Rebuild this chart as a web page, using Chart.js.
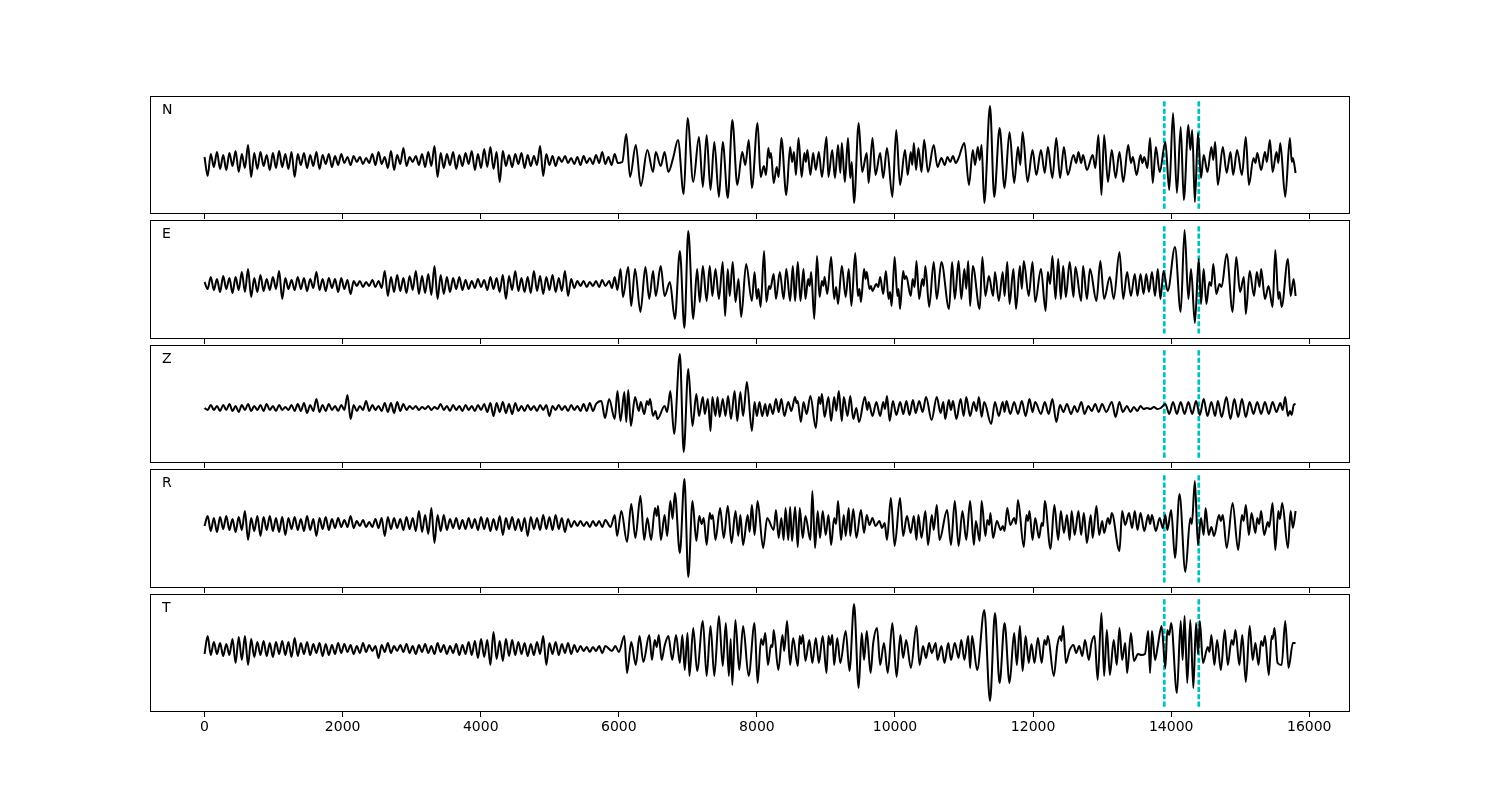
<!DOCTYPE html>
<html>
<head>
<meta charset="utf-8">
<title>N E Z R T traces</title>
<script src="https://cdn.jsdelivr.net/npm/chart.js@4.4.0/dist/chart.umd.min.js"></script>
<style>
    body { margin: 0; background: #fff; }
    #wrap { position: relative; width: 1500px; height: 800px; }
    #wrap canvas { position: absolute; left: 0; }
</style>
</head>
<body>
<div id="wrap"></div>
<script>
// --- data (amplitudes, roughly in pixel units) ---
const panelNames = ['N', 'E', 'Z', 'R', 'T'];
const xTicks = [0, 2000, 4000, 6000, 8000, 10000, 12000, 14000, 16000];
const pickTimes = [13900, 14400];
const xRange = [-790, 16590];

// first ~6000 samples: dense noise, one value every NOISE_DT
const NOISE_DT = 45;

const nNoise = [3,-16,6,-7,8,-9,5,-10,7,-6, 9,-12,6,-8,15,-17,7,-9,8,-6, 5,-10,7,-8,9,-7,6,-9,8,-17,
    6,-5,7,-8,5,-6,8,-9,5,-4, 6,-7,4,-5,6,-3,3,-5,4,-2, 3,-4,2,-3,6,-5,8,-4,3,-8,
    9,-10,5,-4,12,-6,3,-2,4,-5, 6,-7,8,-6,14,-17,7,-8,6,-5, 8,-9,5,-6,7,-4,9,-10,6,-8,
    11,-7,13,-9,8,-22,9,-6,5,-7, 6,-4,7,-8,5,-6,4,-5,14,-16, 6,-5,4,-6,3,-2,4,-3,2,-4,
    3,-5,4,-3,2,-4,5,-3,8,-4, 3,-5,6,-3];
const eNoise = [2,-5,7,-6,5,-8,8,-5,6,-9, 7,-6,12,-8,15,-13,6,-8,9,-7, 5,-6,7,-5,13,-15,6,-5,4,-6,
    7,-5,6,-7,5,-4,12,-6,5,-7, 6,-4,5,-8,6,-5,4,-10,3,-2, 3,-3,2,-2,4,-3,3,-4,13,-12,
    7,-8,9,-7,6,-9,8,-6,13,-10, 8,-9,10,-11,18,-15,9,-10,7,-8, 6,-5,7,-6,4,-5,3,-4,5,-3,
    4,-6,7,-5,6,-8,9,-15,8,-6, 13,-7,6,-8,7,-9,13,-7,8,-10, 7,-6,9,-8,6,-7,13,-12,5,-4,
    3,-2,3,-3,2,-2,3,-3,4,-2];
const zNoise = [0,-2,3,-2,2,-3,3,-2,4,-3, 2,-4,3,-2,4,-3,2,-2,3,-3, 4,-2,2,-3,3,-2,1,-2,3,-3,
    4,-3,5,-5,3,-3,9,-4,3,-3, 4,-2,2,-3,3,-2,13,-11,3,-3, 2,-2,7,-3,3,-2,2,-3,5,-4,
    5,-5,6,-3,4,-2,2,-1,2,-2, 1,-1,2,-2,1,-1,4,-2,2,-3, 3,-2,2,-3,3,-2,2,-3,3,-2,
    4,-4,5,-8,5,-4,6,-5,4,-6, 5,-3,2,-3,3,-2,2,-3,3,-2, 3,-8,2,-2,3,-2,2,-3,3,-2,
    2,-3,4,-3,5,-3,4];
const rNoise = [-2,8,-7,6,-8,7,-5,8,-6,5, -8,7,-6,13,-16,6,-7,8,-12,7, -6,8,-7,6,-8,7,-11,6,-5,7,
    -6,5,-7,8,-6,5,-12,6,-5,7, -6,5,-4,6,-3,4,-3,8,-4,3, -2,4,-3,2,-3,5,-4,6,-12,7,
    -5,6,-4,5,-6,7,-5,6,-7,13, -8,9,-10,16,-19,9,-7,9,-6,5, -4,6,-5,4,-5,6,-4,5,-6,7,
    -5,6,-7,5,-6,8,-11,6,-5,7, -6,5,-7,6,-12,7,-5,6,-6,9, -5,7,-6,9,-5,6,-8,5,-3,3,
    -2,3,-2,2,-3,3,-2,3,-3,4];
const tNoise = [-5,13,-6,7,-5,6,-7,5,-6,10, -14,12,-11,13,-16,10,-8,7,-6,8, -7,6,-8,7,-5,8,-6,7,-8,11,
    -7,6,-5,7,-6,5,-4,6,-7,5, -6,4,-5,6,-4,5,-3,4,-5,3, -4,6,-3,4,-2,3,-9,4,-3,6,
    -4,3,-2,4,-3,5,-4,3,-5,4, -3,5,-4,3,-5,6,-3,4,-5,3, -4,5,-6,4,-5,7,-6,8,-9,10,
    -8,9,-16,17,-10,8,-12,10,-7,9, -6,7,-5,6,-7,5,-6,7,-5,13, -16,6,-5,7,-6,5,-4,6,-5,4,
    -3,3,-2,2,-3,2,-2,3,-4,3];

// later part: [time, amplitude] at the peaks and troughs
const nLate = [[6050,-2],[6108,26],[6163,-17],[6246,15],[6318,-26],[6413,10],[6496,-12],[6535,8],[6607,-6],[6663,8],[6718,-12],[6790,3],[6857,20],[6940,-34],[6995,42],[7078,-22],[7161,23],[7217,-27],[7272,25],[7328,-30],[7383,18],[7450,-37],[7505,18],[7578,-38],[7644,40],[7716,-25],[7788,8],[7832,-5],[7882,20],
    [7927,-28],[8010,37],[8054,-17],[8100,-6],[8132,-15],[8165,12],[8187,2],[8204,7],[8243,-23],[8287,-7],[8315,-17],[8354,22],[8426,-35],[8481,13],[8509,-2],[8537,8],[8565,-15],[8603,22],[8648,-17],[8687,7],[8709,-2],[8731,10],[8775,-15],[8814,7],[8853,-10],[8897,8],[8942,-17],[9008,23],[9036,-17],[9091,10],[9130,-18],[9175,15],[9208,-13],[9230,17],[9274,-22],[9319,22],[9352,-18],[9374,-2],[9407,-43],[9474,37],
    [9524,-12],[9591,7],[9618,-23],[9674,22],[9718,-15],[9785,7],[9829,-18],[9884,12],[9962,-37],[10018,30],[10073,-25],[10145,10],[10184,-15],[10228,8],[10250,-5],[10273,17],[10305,-10],[10339,12],[10384,-12],[10422,20],[10478,-12],[10561,15],[10616,-7],[10672,2],[10720,-5],[10760,3],[10800,-2],[10840,4],[10880,-3],[10921,2],
    [11005,17],[11071,-25],[11127,10],[11160,-5],[11199,13],[11227,0],[11254,15],[11293,-43],[11376,54],[11437,-37],[11515,32],[11587,-28],[11659,28],[11726,-23],[11781,13],[11815,-5],[11848,28],[11920,-22],[11992,10],[12047,-15],[12114,10],[12169,-13],[12214,13],[12280,-18],[12336,22],[12391,-18],[12447,13],[12502,-15],[12585,5],[12624,-3],[12657,8],[12696,-3],[12724,5],[12780,-10],[12863,5],[12902,-8],[12946,25],[12990,-35],[13029,25],[13084,-22],[13140,10],[13195,-18],[13251,8],[13306,-22],[13378,15],[13417,-3],[13445,3],[13500,-15],[13556,5],[13583,-3],[13611,3],[13656,-8],[13694,22],[13733,-23],[13778,13],[13833,-12],
    [13916,18],[13972,-30],[14027,47],[14083,-33],[14138,33],[14183,-40],[14249,35],[14277,10],[14305,30],[14343,-42],[14388,27],[14432,-18],[14471,5],[14526,-12],[14582,13],[14610,0],[14637,18],[14676,-25],[14748,13],[14804,-13],[14859,8],[14898,-15],[14954,10],[15025,-15],[15081,23],[15126,-25],[15192,2],[15220,-3],[15247,7],[15303,-10],[15358,8],[15386,-2],[15430,20],[15469,-12],[15525,8],[15552,-3],[15580,17],[15652,-37],[15719,22],[15747,-2],[15763,2],[15802,-13]];

const eLate = [[5860,3],[5900,-4],[5940,7],[5980,-6],[6025,15],[6060,-13],[6136,17],[6180,-22],[6235,15],[6313,-28],[6385,17],[6441,-15],[6496,13],[6535,-12],[6607,18],[6663,-12],[6740,2],[6812,-35],[6884,33],[6950,-44],[7006,53],[7078,-35],[7134,15],[7173,-18],[7217,18],[7272,-17],[7317,18],[7355,-12],[7400,15],[7450,-15],[7505,22],[7539,-32],[7578,15],[7606,-12],[7650,22],[7690,-18],[7733,5],[7772,-33],[7844,20],
    [7927,-17],[7966,12],[7999,-15],[8021,-5],[8054,-23],[8104,33],[8137,-18],[8176,-2],[8193,-5],[8243,10],[8276,-15],[8332,12],[8387,-15],[8426,15],[8481,-17],[8520,18],[8553,-17],[8592,22],[8631,-17],[8675,15],[8703,-15],[8742,5],[8764,-2],[8786,12],[8831,-35],[8870,28],[8908,-13],[8942,3],[8964,-2],[8980,7],[9019,-10],[9075,27],[9119,-15],[9147,-3],[9175,-20],[9230,18],[9286,-13],[9330,15],[9369,-22],[9424,31],[9463,-12],[9485,-5],[9507,-18],[9552,15],[9574,5],[9591,12],[9630,-5],[9652,-2],[9674,-7],[9730,0],[9757,-3],[9785,7],[9829,-10],[9868,13],[9907,-15],[9929,-8],[9951,-22],
    [9995,27],[10034,-12],[10051,-5],[10073,-25],[10118,13],[10140,5],[10162,8],[10228,-12],[10256,5],[10284,-3],[10311,23],[10350,-15],[10395,5],[10417,-2],[10440,18],[10495,-23],[10561,22],[10605,-15],[10672,22],[10783,-25],[10827,22],[10866,-15],[10921,23],[10960,-15],[11005,15],[11032,-5],[11060,23],[11088,-22],[11127,18],[11227,-25],[11265,27],[11310,-12],[11360,8],[11421,-12],[11448,12],[11504,-17],[11560,12],[11587,-12],[11626,22],[11659,-20],[11715,15],[11753,-25],[11809,18],[11837,-5],[11865,23],[11937,-12],[11992,22],[12031,-18],[12114,15],[12181,-27],[12214,12],[12247,0],[12280,28],[12325,-15],[12364,25],[12402,-15],[12436,18],[12475,-13],[12530,22],[12585,-13],[12613,17],[12696,-17],[12724,18],[12780,-15],[12824,15],[12918,-17],[12974,23],[13029,-15],[13112,7],[13168,-15],[13251,32],[13306,-15],[13362,12],[13417,-12],[13473,10],[13512,-12],[13556,10],[13600,-10],[13639,10],[13678,-8],[13722,12],[13766,-12],[13806,15],[13845,-15],[13889,13],[13950,-7],
    [14055,37],[14138,-28],[14194,54],[14249,-15],[14288,15],[14343,-39],[14399,25],[14432,-20],[14471,15],[14510,-20],[14554,2],[14580,-2],[14610,20],[14654,-10],[14700,0],[14730,-3],[14804,30],[14890,-28],[14942,27],[14998,-8],[15053,7],[15081,-30],[15137,13],[15200,-12],[15240,12],[15280,-3],[15303,15],[15358,-15],[15410,-2],[15469,-23],[15508,34],[15552,-15],[15570,-8],[15600,-23],[15691,25],[15730,-12],[15774,5],[15802,-12]];

const zLate = [[5747,7],[5800,-10],[5860,9],[5941,-11],[5980,17],[6025,-13],[6080,16],[6108,-14],[6136,18],[6175,-18],[6235,11],[6290,-3],[6318,6],[6368,-6],[6408,7],[6430,3],[6452,9],[6496,-8],[6530,-3],[6560,-11],[6663,2],[6700,-4],[6746,17],[6801,-26],[6884,54],[6940,-44],[7006,39],[7067,-18],[7123,14],[7161,-8],[7217,11],[7245,-6],[7290,9],[7328,-23],[7355,11],[7400,-8],[7430,11],[7460,-9],[7505,9],[7545,-8],[7582,12],[7625,-11],[7677,17],[7716,-13],[7760,16],[7800,-8],[7855,26],
    [7927,-23],[7966,6],[7999,-8],[8038,6],[8077,-8],[8121,4],[8149,-8],[8187,4],[8232,-6],[8276,9],[8315,-4],[8354,9],[8398,-8],[8454,6],[8498,-3],[8553,11],[8575,5],[8590,7],[8637,-14],[8675,6],[8720,-6],[8775,12],[8853,-20],[8897,11],[8920,4],[8942,14],[8980,-9],[9036,11],[9075,-13],[9119,11],[9150,-3],[9186,17],[9230,-13],[9258,11],[9313,-8],[9352,12],[9396,-11],[9440,0],[9480,-14],[9563,11],[9600,-2],[9618,6],[9674,-8],[9730,6],[9785,-8],[9829,6],[9855,-1],[9884,12],[9923,-13],[9970,7],
    [10020,-7],[10075,6],[10120,-6],[10165,7],[10210,-7],[10260,8],[10300,-5],[10350,7],[10400,-4],[10450,11],[10530,-12],[10605,11],[10660,-5],[10700,6],[10727,-11],[10780,8],[10810,-2],[10840,7],[10890,-11],[10950,9],[10995,-8],[11032,11],[11088,-8],[11140,6],[11180,-3],[11215,11],[11255,-9],[11292,6],[11393,-16],[11448,6],[11504,-8],[11560,6],[11587,-4],[11615,7],[11670,-6],[11726,6],[11781,-6],[11837,7],[11892,-8],[11948,9],[11992,-4],[12031,6],[12114,-6],[12170,6],[12225,-6],[12280,9],[12336,-14],[12390,3],[12440,-4],[12490,4],[12550,-6],[12600,2],[12640,-4],[12700,6],[12745,-6],[12800,2],[12850,-3],[12900,4],[12950,-4],[13000,4],[13060,-4],[13140,6],[13195,-9],[13250,6],[13300,-4],[13360,2],[13410,-4],[13460,1],[13510,-3],[13556,2],[13600,-1],[13650,0],[13700,-1],[13750,1],[13800,-1],[13850,0],
    [13916,4],[13972,-6],[14027,6],[14083,-6],[14138,6],[14194,-6],[14249,6],[14305,-6],[14360,7],[14415,-7],[14471,9],[14526,-8],[14582,6],[14637,-8],[14676,7],[14732,-9],[14800,11],[14859,-11],[14915,9],[14970,-9],[15025,9],[15081,-9],[15137,6],[15192,-6],[15247,6],[15303,-6],[15358,6],[15414,-6],[15469,6],[15525,-4],[15580,5],[15615,-2],[15652,11],[15691,-8],[15720,-3],[15745,-7],[15775,3],[15802,4]];

const rLate = [[5880,-3],[5941,9],[5975,-12],[6036,13],[6119,-18],[6180,20],[6240,-14],[6313,28],[6368,-16],[6413,6],[6468,-16],[6524,16],[6550,8],[6568,18],[6610,-16],[6663,9],[6700,-12],[6746,23],[6779,5],[6812,31],[6884,-29],[6950,45],[7006,-53],[7067,23],[7123,-17],[7165,8],[7200,0],[7230,6],[7272,-21],[7317,11],[7340,5],[7360,9],[7400,-16],[7467,16],[7520,-14],[7578,18],[7633,-19],[7690,13],[7730,-12],[7760,9],[7800,-21],[7866,9],[7895,-8],
    [7927,19],[7966,-11],[8010,23],[8090,-24],[8149,6],[8243,-6],[8276,14],[8315,-14],[8354,6],[8387,-16],[8415,16],[8454,-16],[8481,17],[8509,-17],[8553,17],[8592,-23],[8620,16],[8664,-14],[8703,8],[8775,-16],[8803,33],[8842,-24],[8881,13],[8914,-14],[8953,13],[8997,-11],[9036,9],[9075,-21],[9119,6],[9147,0],[9175,23],[9219,-16],[9258,9],[9286,-12],[9330,16],[9352,-12],[9396,15],[9441,-14],[9507,14],[9552,-9],[9591,9],[9630,-1],[9674,6],[9718,-2],[9774,3],[9812,-4],[9850,1],[9884,-16],[9940,26],[9995,-22],
    [10073,26],[10118,-12],[10173,8],[10228,-9],[10273,8],[10311,-16],[10339,9],[10384,-14],[10440,13],[10478,-21],[10533,9],[10561,-6],[10605,19],[10644,-16],[10755,14],[10811,-21],[10866,23],[10921,-22],[10977,13],[11032,-16],[11088,23],[11143,-21],[11171,3],[11227,-17],[11254,23],[11310,-12],[11337,4],[11365,-1],[11382,11],[11421,-14],[11476,3],[11532,-6],[11560,-2],[11587,-7],[11626,16],[11670,-1],[11726,6],[11753,0],[11781,24],[11865,-23],[11904,9],[11926,3],[11948,13],[11992,-16],[12031,6],[12086,-14],[12125,1],[12145,-2],[12169,23],[12253,-25],[12308,19],[12364,-16],[12402,13],[12447,-9],[12491,9],[12530,-16],[12558,13],[12602,-11],[12657,13],[12696,-11],[12735,11],[12780,-19],[12835,9],[12863,-14],[12918,18],[12957,-11],[13001,3],[13029,-9],[13084,6],[13110,0],[13140,11],[13251,-27],[13290,13],[13334,-1],[13389,11],[13434,-4],[13473,13],[13512,-6],[13556,11],[13611,-7],[13667,9],[13695,0],[13722,9],[13778,-7],[13833,6],[13878,-4],
    [13916,9],[13944,-6],[14000,14],[14055,-34],[14121,30],[14205,-48],[14277,6],[14300,0],[14343,43],[14388,-21],[14432,6],[14471,-11],[14499,16],[14543,-11],[14582,-3],[14621,-12],[14693,9],[14720,3],[14748,9],[14804,-24],[14890,21],[14970,-26],[15025,9],[15050,3],[15081,19],[15126,-11],[15164,11],[15220,-9],[15247,6],[15275,0],[15303,13],[15347,-11],[15400,2],[15420,-3],[15469,21],[15508,-26],[15552,13],[15575,5],[15608,21],[15691,-24],[15730,13],[15763,-4],[15802,13]];

const tLate = [[5900,-2],[5950,3],[6000,-3],[6080,13],[6119,-24],[6180,7],[6246,-16],[6300,13],[6355,-13],[6441,14],[6480,-11],[6520,9],[6550,2],[6579,14],[6620,-11],[6663,3],[6718,13],[6774,-11],[6829,14],[6884,-14],[6920,14],[6955,-21],[6995,16],[7023,-27],[7078,21],[7134,-22],[7217,28],[7272,-27],[7328,23],[7383,-27],[7450,33],[7505,-17],[7550,26],[7594,-27],[7620,10],[7644,-36],[7688,29],[7744,-21],[7800,23],[7880,-27],
    [7966,26],[8010,-34],[8060,10],[8090,4],[8121,16],[8160,-16],[8205,4],[8225,2],[8243,19],[8310,-21],[8370,14],[8395,-2],[8437,28],[8481,-16],[8525,11],[8592,-17],[8620,13],[8640,5],[8665,14],[8703,-12],[8759,9],[8803,-14],[8853,11],[8897,-14],[8953,13],[9008,-24],[9036,13],[9063,4],[9091,14],[9119,-16],[9164,11],[9208,-14],[9286,18],[9341,-22],[9407,45],[9474,-39],[9518,16],[9552,-11],[9591,18],[9646,-24],[9685,6],[9740,21],[9785,-16],[9840,6],[9895,-24],[9962,26],
    [10023,-28],[10078,14],[10118,-9],[10162,9],[10230,-19],[10311,23],[10356,-16],[10406,3],[10450,-9],[10494,6],[10533,-4],[10589,6],[10616,-11],[10672,3],[10717,-14],[10772,6],[10811,-11],[10866,6],[10921,-9],[10960,9],[11005,-11],[11060,13],[11088,-19],[11116,13],[11190,-21],[11293,39],[11376,-52],[11448,36],[11515,-34],[11587,26],[11659,-34],[11726,16],[11765,-16],[11809,23],[11848,-22],[11892,13],[11937,-14],[11976,5],[12020,-14],[12070,11],[12125,-14],[12164,9],[12192,4],[12214,13],[12300,-27],[12350,3],[12391,13],[12410,8],[12436,23],[12475,-14],[12530,-1],[12585,4],[12624,-4],[12668,3],[12713,-7],[12752,9],[12808,-11],[12846,6],[12890,13],[12935,-31],[12990,36],[13029,-27],[13068,19],[13112,-26],[13168,9],[13212,-16],[13251,21],[13290,-11],[13334,6],[13362,-24],[13417,16],[13461,-12],[13520,-5],[13570,-6],[13620,-5],[13667,18],[13694,-24],[13722,18],[13766,-11],[13806,3],[13861,23],
    [13916,-19],[13944,19],[13972,14],[14000,26],[14083,-44],[14138,28],[14166,-11],[14194,33],[14233,-34],[14277,29],[14321,-39],[14360,26],[14390,-5],[14415,28],[14460,-14],[14530,2],[14555,-3],[14582,14],[14626,-16],[14665,9],[14720,-21],[14776,19],[14820,-16],[14875,9],[14900,4],[14931,19],[14987,-16],[15030,14],[15081,-33],[15137,23],[15181,-11],[15220,6],[15265,-16],[15303,8],[15330,3],[15358,13],[15414,-26],[15455,13],[15470,10],[15497,21],[15541,-14],[15600,-16],[15652,28],[15700,-19],[15763,6],[15802,6]];

// extent of each trace (bottom, top) used for the pick lines and the y limits
const traceLo = [-48.6, -49.6, -49.6, -58.6, -57.6];
const traceHi = [58.6, 58.6, 57.6, 49.6, 49.6];

const traces = [[nNoise, nLate], [eNoise, eLate], [zNoise, zLate], [rNoise, rLate], [tNoise, tLate]];

// --- layout ---
const panelTop = [96, 220, 345, 469, 594];
const panelHeight = [118, 119, 118, 119, 118];
const PAD_TOP = 10;

Chart.defaults.font.family = '"DejaVu Sans", sans-serif';
Chart.defaults.color = '#000';

function buildPoints(noise, late) {
    const pts = noise.map((v, i) => ({ x: i * NOISE_DT, y: v }));
    late.forEach(([t, v]) => pts.push({ x: t, y: v }));
    return pts;
}

// frame + channel letter
const framePlugin = {
    id: 'frame',
    afterDraw(chart) {
        const { ctx, chartArea: a } = chart;
        ctx.save();
        ctx.strokeStyle = '#000';
        ctx.lineWidth = 1;
        ctx.strokeRect(a.left + 0.5, a.top + 0.5, a.right - a.left - 1, a.bottom - a.top - 1);
        ctx.fillStyle = '#000';
        ctx.font = '14px "DejaVu Sans"';
        ctx.textBaseline = 'alphabetic';
        ctx.fillText(chart.options.plugins.frame.label, a.left + 12, a.top + 18);
        ctx.restore();
    }
};

const wrap = document.getElementById('wrap');

panelNames.forEach((name, k) => {
    const isBottom = k === panelNames.length - 1;
    const axisH = isBottom ? 40 : 8;
    const h = PAD_TOP + panelHeight[k] + axisH;

    const canvas = document.createElement('canvas');
    canvas.width = 1500;
    canvas.height = h;
    canvas.style.width = '1500px';
    canvas.style.height = h + 'px';
    canvas.style.top = (panelTop[k] - PAD_TOP) + 'px';
    wrap.appendChild(canvas);

    const lo = traceLo[k], hi = traceHi[k];
    const margin = 0.05 * (hi - lo);

    const datasets = [{
        data: buildPoints(traces[k][0], traces[k][1]),
        borderColor: '#000',
        borderWidth: 2,
        pointRadius: 0,
        cubicInterpolationMode: 'monotone'
    }];
    pickTimes.forEach(t => {
        datasets.push({
            data: [{ x: t, y: lo }, { x: t, y: hi }],
            borderColor: '#00BFBF',
            borderWidth: 2.7,
            borderDash: [5.1, 2.2],
            pointRadius: 0
        });
    });

    new Chart(canvas.getContext('2d'), {
        type: 'line',
        data: { datasets },
        options: {
            responsive: false,
            animation: false,
            devicePixelRatio: 1,
            layout: { padding: { top: PAD_TOP, left: 150, right: 150, bottom: 0 } },
            plugins: {
                legend: { display: false },
                tooltip: { enabled: false },
                frame: { label: name }
            },
            scales: {
                x: {
                    type: 'linear',
                    min: xRange[0],
                    max: xRange[1],
                    afterBuildTicks: axis => { axis.ticks = xTicks.map(v => ({ value: v })); },
                    afterFit: axis => { axis.height = axisH; },
                    border: { display: false },
                    grid: { display: true, drawOnChartArea: false, drawTicks: true, tickLength: 5, color: '#000', lineWidth: 1 },
                    ticks: {
                        display: isBottom,
                        color: '#000',
                        padding: 2,
                        maxRotation: 0,
                        font: { size: 14 },
                        callback: v => String(v)
                    }
                },
                y: {
                    display: false,
                    min: lo - margin,
                    max: hi + margin
                }
            }
        },
        plugins: [framePlugin]
    });
});
</script>
</body>
</html>
